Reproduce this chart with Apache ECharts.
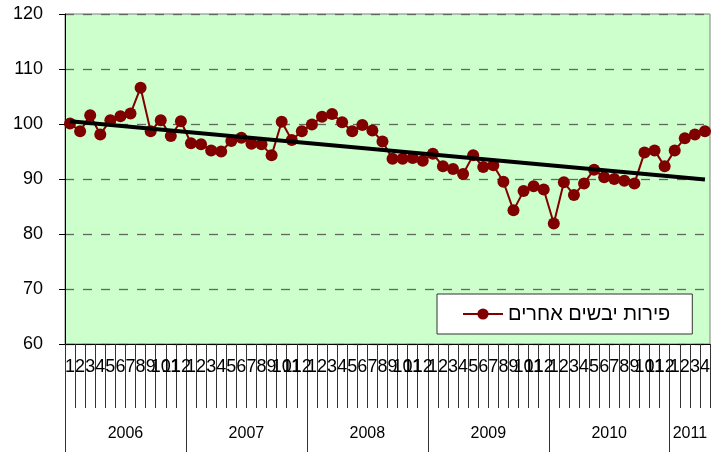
<!DOCTYPE html>
<html>
<head>
    <meta charset="utf-8">
    <title>פירות יבשים אחרים</title>
    <script src="https://cdn.jsdelivr.net/npm/echarts@6.0.0/dist/echarts.min.js"></script>
    <style>
        html, body { margin: 0; padding: 0; background: #fff; }
        #chart { width: 713px; height: 452px; }
    </style>
</head>
<body>
<div id="chart"></div>
<script>
    // data (monthly index, 2006-01 .. 2011-04)
    var years = ['2006', '2007', '2008', '2009', '2010', '2011'];
    var monthsPerYear = [12, 12, 12, 12, 12, 4];
    var seriesName = 'פירות יבשים אחרים';
    var values = [
        100.1, 98.7, 101.6, 98.1, 100.7, 101.4, 101.9, 106.6, 98.7, 100.7, 97.8, 100.5,   // 2006
        96.5, 96.3, 95.2, 95.0, 96.9, 97.5, 96.4, 96.3, 94.3, 100.4, 97.1, 98.7,          // 2007
        99.9, 101.3, 101.8, 100.3, 98.7, 99.8, 98.8, 96.8, 93.7, 93.7, 93.8, 93.3,        // 2008
        94.6, 92.3, 91.8, 90.9, 94.3, 92.2, 92.5, 89.5, 84.3, 87.8, 88.7, 88.1,           // 2009
        81.9, 89.4, 87.1, 89.2, 91.7, 90.3, 90.0, 89.7, 89.2, 94.8, 95.2, 92.3,           // 2010
        95.2, 97.4, 98.1, 98.7                                                            // 2011
    ];
    var trendStart = 100.5;
    var trendEnd = 89.9;
    var yTicks = { min: 60, max: 120, step: 10 };

    // month labels 1..12 per year
    var monthLabels = [];
    monthsPerYear.forEach(function (n) {
        for (var m = 1; m <= n; m++) monthLabels.push(String(m));
    });

    // year boundaries and label centres on the lower axis
    var yearBounds = [0], yearCentres = [];
    var acc = 0;
    monthsPerYear.forEach(function (n) {
        yearCentres.push(acc + n / 2);
        acc += n;
        yearBounds.push(acc);
    });
    var total = acc;

    var trend = values.map(function () { return null; });
    trend[0] = trendStart;
    trend[total - 1] = trendEnd;

    var font = 'Liberation Sans, Arial, DejaVu Sans, sans-serif';
    var chart = echarts.init(document.getElementById('chart'), null, { renderer: 'canvas' });

    var option = {
        animation: false,
        backgroundColor: '#ffffff',
        grid: {
            left: 65, right: 3, top: 14, bottom: 108,
            show: true,
            backgroundColor: '#CCFFCC',
            borderColor: '#808080',
            borderWidth: 1
        },
        legend: {
            data: [seriesName],
            left: 437, top: 294,
            padding: [10, 22, 10, 25],
            itemWidth: 40, itemHeight: 14,
            itemGap: 5,
            backgroundColor: '#ffffff',
            borderColor: '#333333',
            borderWidth: 1,
            textStyle: { fontFamily: font, fontSize: 20, color: '#000' }
        },
        xAxis: [
            {
                type: 'category',
                data: monthLabels,
                boundaryGap: true,
                axisLine: { lineStyle: { color: '#000', width: 1 } },
                axisTick: { show: true, interval: 0, length: 64, lineStyle: { color: '#333' } },
                axisLabel: {
                    interval: 0, margin: 14,
                    fontFamily: font, fontSize: 18, color: '#000'
                },
                splitLine: { show: false }
            },
            {
                type: 'value',
                position: 'bottom',
                min: 0, max: total,
                axisLine: { show: false },
                axisTick: {
                    show: true, length: 108,
                    customValues: yearBounds.slice(0, yearBounds.length - 1),
                    lineStyle: { color: '#333' }
                },
                axisLabel: {
                    customValues: yearCentres,
                    margin: 82,
                    fontFamily: font, fontSize: 16, color: '#000',
                    formatter: function (v) {
                        var i = yearCentres.indexOf(v);
                        return i >= 0 ? years[i] : '';
                    }
                },
                splitLine: { show: false }
            }
        ],
        yAxis: {
            type: 'value',
            min: yTicks.min, max: yTicks.max, interval: yTicks.step,
            axisLine: { show: true, lineStyle: { color: '#000' } },
            axisTick: { show: true, length: 6, lineStyle: { color: '#000' } },
            axisLabel: { margin: 22, fontFamily: font, fontSize: 18, color: '#000' },
            splitLine: { show: true, lineStyle: { color: '#606860', type: [9, 9], width: 1.3 } }
        },
        series: [
            {
                name: 'trend',
                type: 'line',
                data: trend,
                connectNulls: true,
                showSymbol: false,
                symbol: 'none',
                lineStyle: { color: '#000', width: 4 },
                z: 3
            },
            {
                name: seriesName,
                type: 'line',
                data: values,
                symbol: 'circle',
                symbolSize: 12,
                itemStyle: { color: '#800000' },
                lineStyle: { color: '#800000', width: 2 },
                z: 2
            }
        ]
    };

    chart.setOption(option);
</script>
</body>
</html>
